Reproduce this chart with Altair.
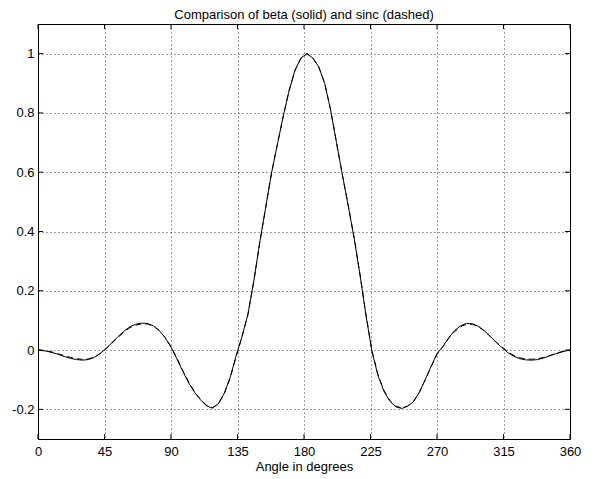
import altair as alt
import pandas as pd

# ---- data ----
angles = [0, 2, 6, 10, 14, 18, 22, 26, 30, 34, 38, 42, 46, 50, 54, 58, 62, 66, 70, 74,
          78, 82, 86, 90, 94, 98, 102, 106, 110, 114, 118, 122, 126, 130, 134, 138, 142,
          146, 150, 154, 158, 162, 166, 170, 174, 178, 182, 186, 190, 194, 198, 202, 206,
          210, 214, 218, 222, 226, 230, 234, 238, 242, 246, 250, 254, 258, 262, 266, 270,
          274, 278, 282, 286, 290, 294, 298, 302, 306, 310, 314, 318, 322, 326, 330, 334,
          338, 342, 346, 350, 354, 358, 360]

beta = [0.000, -0.001, -0.004, -0.009, -0.015, -0.022, -0.028, -0.032, -0.034, -0.032,
        -0.025, -0.012, 0.005, 0.025, 0.045, 0.063, 0.078, 0.087, 0.091, 0.090,
        0.082, 0.066, 0.042, 0.010, -0.030, -0.072, -0.111, -0.143, -0.168, -0.188,
        -0.196, -0.181, -0.146, -0.093, -0.020, 0.045, 0.120, 0.232, 0.362, 0.479,
        0.597, 0.694, 0.790, 0.877, 0.945, 0.985, 1.000, 0.985, 0.955, 0.900,
        0.810, 0.700, 0.590, 0.485, 0.375, 0.250, 0.115, -0.005, -0.085, -0.138,
        -0.172, -0.191, -0.197, -0.190, -0.175, -0.143, -0.100, -0.055, -0.012, 0.012,
        0.042, 0.066, 0.082, 0.090, 0.089, 0.080, 0.065, 0.046, 0.026, 0.008,
        -0.009, -0.021, -0.029, -0.033, -0.034, -0.032, -0.027, -0.020, -0.013, -0.007,
        -0.002, 0.000]

sinc = [0.000, -0.001, -0.003, -0.007, -0.013, -0.019, -0.025, -0.029, -0.031, -0.030,
        -0.024, -0.012, 0.004, 0.023, 0.042, 0.060, 0.075, 0.084, 0.088, 0.088,
        0.081, 0.066, 0.043, 0.012, -0.027, -0.069, -0.108, -0.141, -0.167, -0.186,
        -0.194, -0.182, -0.148, -0.095, -0.024, 0.043, 0.118, 0.230, 0.360, 0.478,
        0.596, 0.694, 0.790, 0.877, 0.945, 0.985, 1.000, 0.985, 0.955, 0.900,
        0.810, 0.700, 0.591, 0.486, 0.377, 0.252, 0.118, -0.002, -0.081, -0.135,
        -0.170, -0.189, -0.195, -0.189, -0.174, -0.143, -0.101, -0.057, -0.015, 0.011,
        0.040, 0.063, 0.079, 0.087, 0.087, 0.079, 0.065, 0.047, 0.027, 0.010,
        -0.006, -0.018, -0.026, -0.030, -0.031, -0.029, -0.025, -0.019, -0.012, -0.006,
        -0.002, 0.000]

x_ticks = [0, 45, 90, 135, 180, 225, 270, 315, 360]
y_ticks = [-0.2, 0, 0.2, 0.4, 0.6, 0.8, 1]

title_text = "Comparison of beta (solid) and sinc (dashed)"
x_title = "Angle in degrees"

W, H = 532, 415
FONT = "Liberation Sans"
FS = 13

df_beta = pd.DataFrame({"angle": angles, "value": beta})
df_sinc = pd.DataFrame({"angle": angles, "value": sinc})
df_xt = pd.DataFrame({"t": x_ticks})
df_yt = pd.DataFrame({"t": y_ticks})

xscale = alt.Scale(domain=[0, 360], nice=False, zero=False)
yscale = alt.Scale(domain=[-0.3, 1.1], nice=False, zero=False)

common_axis = dict(
    grid=True, ticks=False, labelFlush=False,
    labelFont=FONT, labelFontSize=FS, labelColor="black",
    titleFont=FONT, titleFontSize=FS, titleColor="black", titleFontWeight="normal",
    domainColor="black", domainWidth=1,
    gridColor="black", gridDash=[1, 3], gridWidth=1, gridOpacity=0.75,
    labelExpr="'' + datum.value",
)
xaxis = alt.Axis(values=x_ticks, title=x_title, labelPadding=6, titlePadding=2, **common_axis)
yaxis = alt.Axis(values=y_ticks, title=None, labelPadding=4, **common_axis)

line_beta = alt.Chart(df_beta).mark_line(color="black", strokeWidth=1).encode(
    x=alt.X("angle:Q", scale=xscale, axis=xaxis),
    y=alt.Y("value:Q", scale=yscale, axis=yaxis),
)
line_sinc = alt.Chart(df_sinc).mark_line(color="black", strokeWidth=1, strokeDash=[6, 4]).encode(
    x=alt.X("angle:Q", scale=xscale),
    y=alt.Y("value:Q", scale=yscale),
)

# inward MATLAB-style ticks on all four sides
tick_bottom = alt.Chart(df_xt).mark_rule(color="black", strokeWidth=1).encode(
    x=alt.X("t:Q", scale=xscale), y=alt.value(H), y2=alt.value(H - 5))
tick_top = alt.Chart(df_xt).mark_rule(color="black", strokeWidth=1).encode(
    x=alt.X("t:Q", scale=xscale), y=alt.value(0), y2=alt.value(5))
tick_left = alt.Chart(df_yt).mark_rule(color="black", strokeWidth=1).encode(
    y=alt.Y("t:Q", scale=yscale), x=alt.value(0), x2=alt.value(5))
tick_right = alt.Chart(df_yt).mark_rule(color="black", strokeWidth=1).encode(
    y=alt.Y("t:Q", scale=yscale), x=alt.value(W), x2=alt.value(W - 5))

chart = alt.layer(line_sinc, line_beta, tick_bottom, tick_top, tick_left, tick_right).properties(
    width=W, height=H,
    background="white",
    title=alt.TitleParams(text=title_text, font=FONT, fontSize=FS, fontWeight="normal",
                          color="black", anchor="middle", offset=2),
    autosize=alt.AutoSizeParams(type="none"),
    padding={"left": 30, "top": 16, "right": 17, "bottom": 38},
).configure_view(
    stroke="black", strokeWidth=1
)

chart.save("out.html", embed_options={"renderer": "svg", "actions": False})
